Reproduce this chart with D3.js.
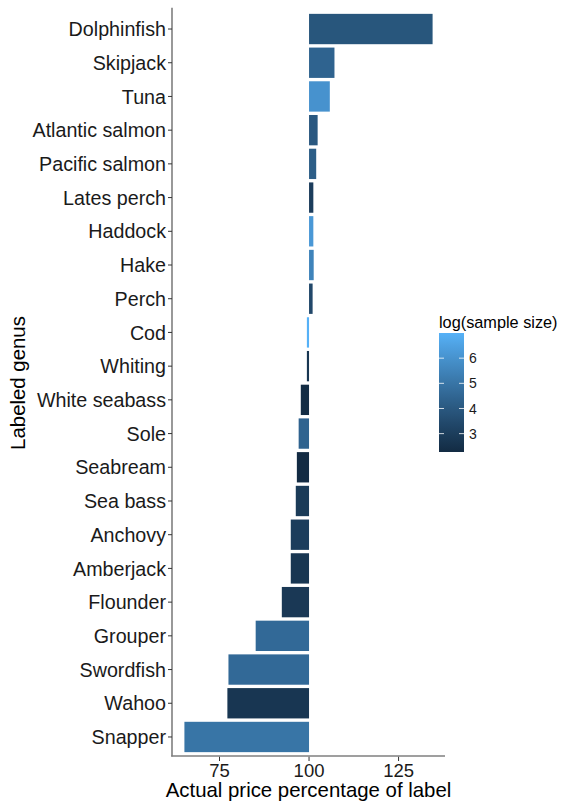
<!DOCTYPE html>
<html>
<head>
<meta charset="utf-8">
<script src="https://cdn.jsdelivr.net/npm/d3@7"></script>
<style>
  html, body { margin: 0; padding: 0; background: #fff; }
  svg { display: block; font-family: "Liberation Sans", Arial, Helvetica, sans-serif; }
</style>
</head>
<body>
<svg id="chart" width="568" height="802"></svg>
<script>
// ---- data ----
const genera = ["Dolphinfish","Skipjack","Tuna","Atlantic salmon","Pacific salmon","Lates perch","Haddock","Hake","Perch","Cod","Whiting","White seabass","Sole","Seabream","Sea bass","Anchovy","Amberjack","Flounder","Grouper","Swordfish","Wahoo","Snapper"];
const pricePct = [134.5,107.1,105.8,102.4,102.0,101.2,101.2,101.3,101.0,99.4,99.4,97.7,97.1,96.6,96.3,94.9,94.9,92.4,85.1,77.5,77.2,65.2];
const logSample = [3.9,4.4,6.0,4.0,4.2,3.0,6.2,5.5,3.4,7.0,2.7,2.3,4.4,2.27,2.9,3.0,2.7,2.8,4.6,4.6,2.7,5.0];
const xTicks = [75,100,125];
const legendTicks = [3,4,5,6];
const baseline = 100;

const svg = d3.select("#chart");
const fontCol = "#1a1a1a";

const x0 = 172, x1 = 445, yTop = 8.8, yBot = 757.2;

const xmin = d3.min(pricePct), xmax = d3.max(pricePct);
const pad = (xmax - xmin) * 0.05;
const x = d3.scaleLinear().domain([xmin - pad, xmax + pad]).range([x0, x1]);
const y = d3.scaleBand().domain(genera).range([yTop, yBot]).paddingInner(0.1).paddingOuter(0.15);

const cExt = d3.extent(logSample);
const color = d3.scaleLinear().domain(cExt).range(["#132B43", "#56B1F7"]).interpolate(d3.interpolateLab);

// bars
svg.append("g").selectAll("rect").data(genera).join("rect")
  .attr("x", (d, i) => Math.min(x(baseline), x(pricePct[i])))
  .attr("width", (d, i) => Math.abs(x(pricePct[i]) - x(baseline)))
  .attr("y", d => y(d))
  .attr("height", y.bandwidth())
  .attr("fill", (d, i) => color(logSample[i]));

// axis lines
const axisCol = "#7f7f7f";
svg.append("line").attr("x1", x0).attr("x2", x0).attr("y1", yTop - 1).attr("y2", 756.5)
  .attr("stroke", axisCol).attr("stroke-width", 1.6);
svg.append("line").attr("x1", x0 - 0.8).attr("x2", x1).attr("y1", 756).attr("y2", 756)
  .attr("stroke", axisCol).attr("stroke-width", 1.6);

// y ticks and labels
const yg = svg.append("g");
genera.forEach(g => {
  const cy = y(g) + y.bandwidth() / 2;
  yg.append("line").attr("x1", x0 - 4).attr("x2", x0).attr("y1", cy).attr("y2", cy)
    .attr("stroke", "#333").attr("stroke-width", 1);
  yg.append("text").attr("x", x0 - 6).attr("y", cy).attr("dy", "0.36em")
    .attr("text-anchor", "end").attr("font-size", 19.7).attr("fill", fontCol).text(g);
});

// x ticks and labels
const xg = svg.append("g");
xTicks.forEach(t => {
  xg.append("line").attr("x1", x(t)).attr("x2", x(t)).attr("y1", 756.8).attr("y2", 761)
    .attr("stroke", "#333").attr("stroke-width", 1);
  xg.append("text").attr("x", x(t)).attr("y", 777).attr("text-anchor", "middle")
    .attr("font-size", 18.5).attr("fill", fontCol).text(t);
});

// axis titles
svg.append("text").attr("x", (x0 + x1) / 2).attr("y", 797).attr("text-anchor", "middle")
  .attr("font-size", 20.4).attr("fill", "#000").text("Actual price percentage of label");
svg.append("text").attr("transform", `translate(25,${(yTop + yBot) / 2}) rotate(-90)`)
  .attr("text-anchor", "middle").attr("font-size", 20.4).attr("fill", "#000").text("Labeled genus");

// legend
const lx = 439, lw = 25, ly0 = 333, ly1 = 452;
const ly = d3.scaleLinear().domain(cExt).range([ly1, ly0]);
const defs = svg.append("defs");
const grad = defs.append("linearGradient").attr("id", "cbar")
  .attr("x1", 0).attr("x2", 0).attr("y1", 1).attr("y2", 0);
d3.range(0, 1.0001, 0.05).forEach(f => {
  grad.append("stop").attr("offset", f).attr("stop-color", color(cExt[0] + f * (cExt[1] - cExt[0])));
});
svg.append("rect").attr("x", lx).attr("y", ly0).attr("width", lw).attr("height", ly1 - ly0)
  .attr("fill", "url(#cbar)");
legendTicks.forEach(t => {
  const ty = ly(t);
  svg.append("line").attr("x1", lx).attr("x2", lx + 5).attr("y1", ty).attr("y2", ty)
    .attr("stroke", "#fff").attr("stroke-width", 1).attr("opacity", 0.8);
  svg.append("line").attr("x1", lx + lw - 5).attr("x2", lx + lw).attr("y1", ty).attr("y2", ty)
    .attr("stroke", "#fff").attr("stroke-width", 1).attr("opacity", 0.8);
  svg.append("text").attr("x", lx + lw + 5).attr("y", ty).attr("dy", "0.36em")
    .attr("font-size", 14).attr("fill", fontCol).text(t);
});
svg.append("text").attr("x", lx).attr("y", 328).attr("font-size", 16.3).attr("fill", "#000")
  .text("log(sample size)");
</script>
</body>
</html>
